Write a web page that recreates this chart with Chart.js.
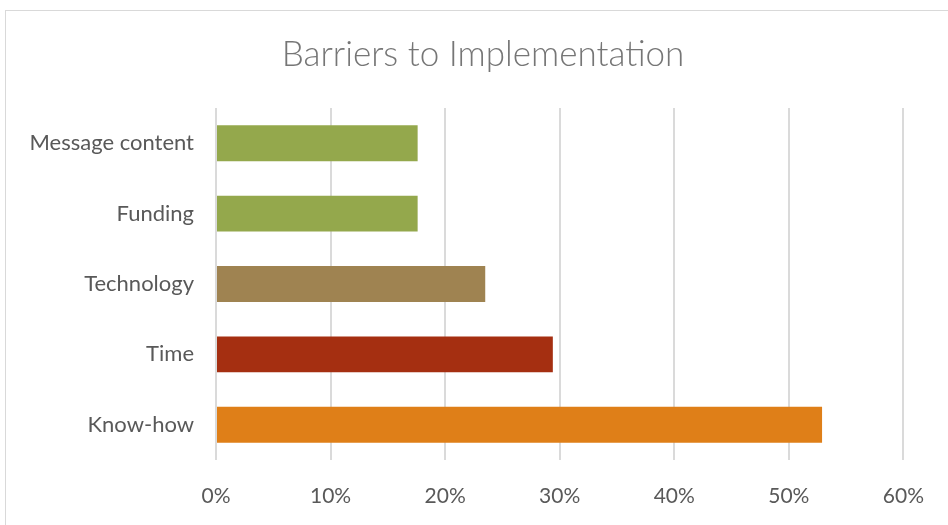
<!DOCTYPE html>
<html>
<head>
<meta charset="utf-8">
<script src="https://cdn.jsdelivr.net/npm/chart.js@4"></script>
<style>
  body { margin: 0; background: #fff; }
  #wrap { position: relative; width: 948px; height: 525px; }
  #frame { position: absolute; left: 5px; top: 10px; width: 960px; height: 540px; border: 1px solid #d9d9d9; box-sizing: border-box; }
  #chart { position: absolute; left: 0; top: 0; }
</style>
</head>
<body>
<div id="wrap">
  <div id="frame"></div>
  <canvas id="chart" width="948" height="525"></canvas>
</div>
<script>
var categories = ['Message content', 'Funding', 'Technology', 'Time', 'Know-how'];
var values = [17.6, 17.6, 23.5, 29.4, 52.9];
var barColors = ['#94A84C', '#94A84C', '#9F8351', '#A52F11', '#DF7F18'];
var xTicks = [0, 10, 20, 30, 40, 50, 60];

// centre the title on the whole frame, not only the padded box
var centerTitle = {
    id: 'centerTitle',
    afterLayout: function(chart) {
        chart.titleBlock.left = 5;
        chart.titleBlock.right = 961;
    }
};

var ctx = document.getElementById('chart');
var myChart = new Chart(ctx, {
    type: 'bar',
    data: {
        labels: categories,
        datasets: [
            {
                data: values,
                backgroundColor: barColors,
                borderWidth: 0,
                categoryPercentage: 1,
                barPercentage: 0.51
            }
        ]
    },
    options: {
        indexAxis: 'y',
        responsive: false,
        animation: false,
        layout: { padding: { left: 10, right: 43, top: 0, bottom: 0 } },
        plugins: {
            legend: { display: false },
            tooltip: { enabled: false },
            title: {
                display: true,
                text: 'Barriers to Implementation',
                color: '#767676',
                font: { family: 'Lato', size: 35, weight: '300' },
                padding: { top: 34, bottom: 32 }
            }
        },
        scales: {
            x: {
                min: 0,
                max: 60,
                afterBuildTicks: function(axis) {
                    axis.ticks = xTicks.map(function(v) { return { value: v }; });
                },
                ticks: {
                    color: '#595959',
                    font: { family: 'Lato', size: 21 },
                    padding: 24,
                    callback: function(v) { return v + '%'; }
                },
                grid: { color: '#dadada', lineWidth: 2, drawTicks: false },
                border: { display: false },
                afterFit: function(axis) { axis.height = 65; }
            },
            y: {
                ticks: {
                    color: '#595959',
                    font: { family: 'Lato', size: 22 },
                    padding: 22
                },
                grid: { display: false, drawTicks: false },
                border: { display: false },
                afterFit: function(axis) { axis.width = 206; }
            }
        }
    },
    plugins: [centerTitle]
});
</script>
</body>
</html>
